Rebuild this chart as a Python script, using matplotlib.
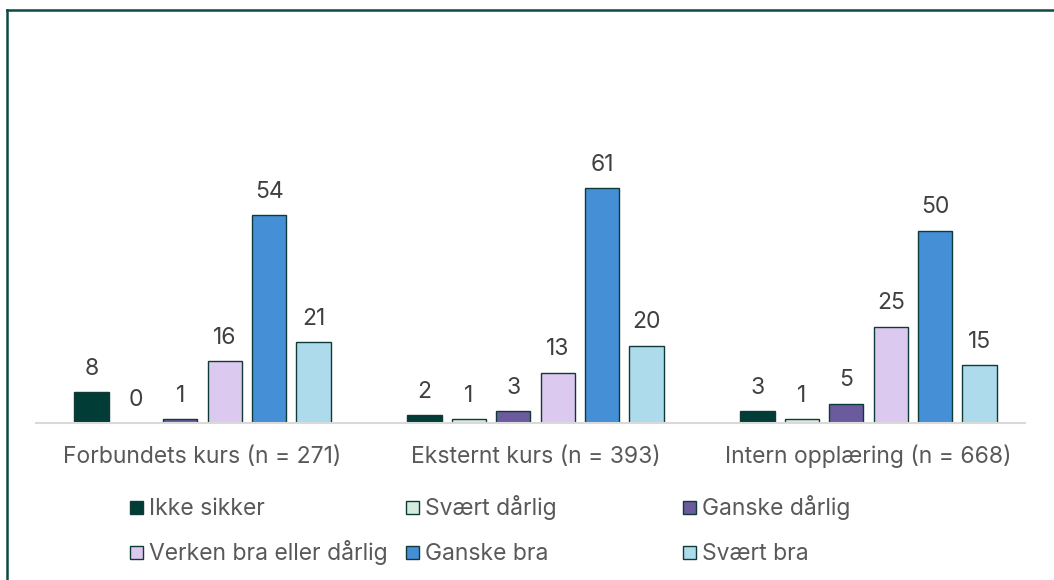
import numpy as np
import matplotlib
matplotlib.use('Agg')
import matplotlib.pyplot as plt
from matplotlib.lines import Line2D
from matplotlib.patches import Rectangle

plt.rcParams['font.family'] = ['Inter', 'DejaVu Sans']

# Chart data
categories = ['Forbundets kurs (n = 271)', 'Eksternt kurs (n = 393)',
              'Intern opplæring (n = 668)']
series = ['Ikke sikker', 'Svært dårlig', 'Ganske dårlig',
          'Verken bra eller dårlig', 'Ganske bra', 'Svært bra']
values = [
    [8, 2, 3],
    [0, 1, 1],
    [1, 3, 5],
    [16, 13, 25],
    [54, 61, 50],
    [21, 20, 15],
]
colors = ['#023C36', '#D5EBDD', '#6B5B9E', '#DCC9F0', '#448FD6', '#ADDBEB']
edge = '#0E3B37'

W, H = 1054, 580
fig = plt.figure(figsize=(W / 100, H / 100), dpi=100)
ax_h = 269.5
ax = fig.add_axes([36 / W, 157 / H, 989 / W, ax_h / H])

x = np.arange(len(categories))
step = 0.1335
width = 0.103
for i, (name, vals) in enumerate(zip(series, values)):
    pos = x + (i - 2.5) * step
    bars = ax.bar(pos, vals, width, color=colors[i], edgecolor=edge,
                  linewidth=1, label=name)
    ax.bar_label(bars, padding=9, fontsize=16.5, color='#404040')

ax.set_xlim(-0.5, 2.47)
ax.set_ylim(0, 70)
ax.set_xticks([])
ax.set_yticks([])
# category labels sit on a common baseline below the axis line
for xi, cat in zip(x, categories):
    ax.text(xi, -40 / ax_h, cat, transform=ax.get_xaxis_transform(),
            ha='center', va='baseline', fontsize=16.5, color='#595959')
for s in ['top', 'right', 'left']:
    ax.spines[s].set_visible(False)
ax.spines['bottom'].set_color('#D9D9D9')
ax.spines['bottom'].set_linewidth(1.5)

# legend drawn by hand: 3 evenly spaced columns, row-major order
col_x = [130, 406, 683]
row_base = [515, 560]
sq = 13
for i, name in enumerate(series):
    cx = col_x[i % 3]
    by = row_base[i // 3]
    fig.add_artist(Rectangle((cx / W, 1 - (by - 1) / H), sq / W, sq / H,
                             facecolor=colors[i], edgecolor=edge, lw=1,
                             transform=fig.transFigure))
    fig.text((cx + 19) / W, 1 - by / H, name, fontsize=16.5,
             color='#595959', va='baseline', ha='left')

# chart border (top and left visible)
bc = '#0D4A45'
fig.add_artist(Line2D([7 / W, 1053 / W], [1 - 10 / H, 1 - 10 / H],
                      color=bc, lw=1.8, transform=fig.transFigure))
fig.add_artist(Line2D([7 / W, 7 / W], [0, 1 - 10 / H],
                      color=bc, lw=1.8, transform=fig.transFigure))

fig.savefig('out.png', dpi=100)
